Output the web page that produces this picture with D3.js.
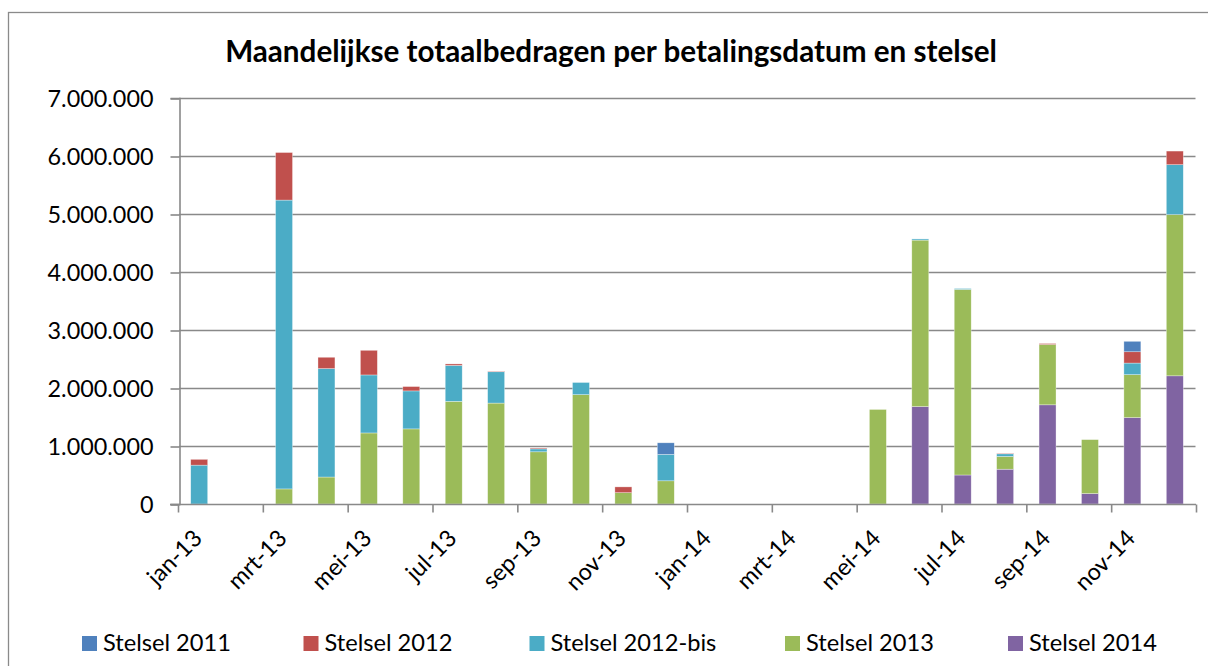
<!DOCTYPE html>
<html>
<head>
<meta charset="utf-8">
<script src="https://cdn.jsdelivr.net/npm/d3@7"></script>
<style>
  html, body { margin: 0; padding: 0; background: #fff; }
  svg { display: block; }
  text { font-family: Lato, "Open Sans", sans-serif; fill: #000; }
</style>
</head>
<body>
<svg id="chart" width="1208" height="666"></svg>
<script>
// Months on the category axis (payment month)
const months = [
  "jan-13","feb-13","mrt-13","apr-13","mei-13","jun-13","jul-13","aug-13","sep-13","okt-13","nov-13","dec-13",
  "jan-14","feb-14","mrt-14","apr-14","mei-14","jun-14","jul-14","aug-14","sep-14","okt-14","nov-14","dec-14"
];

// Monthly totals per scheme (euro)
const stelsel2011 = [
  0, 0, 0, 0, 0, 0, 0, 0, 0, 0, 0, 200000,
  0, 0, 0, 0, 0, 0, 0, 0, 0, 0, 180000, 0
];
const stelsel2012 = [
  100000, 0, 820000, 195000, 425000, 75000, 25000, 10000, 15000, 0, 100000, 0,
  0, 0, 0, 0, 0, 0, 0, 10000, 17000, 0, 195000, 235000
];
const stelsel2012bis = [
  670000, 0, 4980000, 1870000, 1000000, 655000, 620000, 540000, 50000, 210000, 0, 455000,
  0, 0, 0, 0, 0, 20000, 15000, 45000, 0, 0, 200000, 860000
];
const stelsel2013 = [
  0, 0, 260000, 465000, 1225000, 1295000, 1770000, 1740000, 900000, 1885000, 195000, 400000,
  0, 0, 0, 0, 1630000, 2870000, 3200000, 220000, 1040000, 930000, 740000, 2780000
];
const stelsel2014 = [
  0, 0, 0, 0, 0, 0, 0, 0, 0, 0, 0, 0,
  0, 0, 0, 0, 0, 1680000, 500000, 600000, 1710000, 180000, 1490000, 2210000
];

const seriesNames = ["Stelsel 2011", "Stelsel 2012", "Stelsel 2012-bis", "Stelsel 2013", "Stelsel 2014"];
const seriesValues = [stelsel2011, stelsel2012, stelsel2012bis, stelsel2013, stelsel2014];
const seriesColors = ["#4F81BD", "#C0504D", "#4BACC6", "#9BBB59", "#8064A2"];

const yTicks = [0, 1000000, 2000000, 3000000, 4000000, 5000000, 6000000, 7000000];
const xLabelMonths = months.filter((m, i) => i % 2 === 0);
const titleText = "Maandelijkse totaalbedragen per betalingsdatum en stelsel";

// ---- layout ----
const svg = d3.select("#chart");
const plot = { left: 179, right: 1196, top: 98, bottom: 504 };
const gridColor = "#898989";

// Outer chart frame (continues past the right and bottom edges)
svg.append("rect")
  .attr("x", 8.5).attr("y", 12.5)
  .attr("width", 1400).attr("height", 800)
  .attr("fill", "none").attr("stroke", "#8a8a8a").attr("stroke-width", 1.3);

// Scales
const x = d3.scaleBand()
  .domain(months)
  .range([plot.left - 1, plot.right])
  .paddingInner(0.6)
  .paddingOuter(0.3);

const xIndex = d3.scaleLinear().domain([0, months.length]).range([plot.left - 1, plot.right]);

const y = d3.scaleLinear().domain([0, 7000000]).range([plot.bottom, plot.top]);

const nl = d3.formatLocale({ decimal: ",", thousands: ".", grouping: [3], currency: ["€", ""] });
const fmt = nl.format(",");

// Horizontal gridlines
svg.append("g").selectAll("line")
  .data(yTicks.filter(v => v > 0))
  .join("line")
  .attr("x1", plot.left).attr("x2", plot.right - 0.5)
  .attr("y1", d => Math.round(y(d)) + 0.5).attr("y2", d => Math.round(y(d)) + 0.5)
  .attr("stroke", gridColor).attr("stroke-width", 1.6);

// Stacked bars: 2014 at the bottom, 2011 on top
const rows = months.map((m, i) => {
  const r = { month: m };
  seriesNames.forEach((s, k) => { r[s] = seriesValues[k][i]; });
  return r;
});
const stackOrder = seriesNames.slice().reverse();
const stacked = d3.stack().keys(stackOrder)(rows);
const colorOf = d3.scaleOrdinal().domain(seriesNames).range(seriesColors);

svg.append("g").selectAll("g")
  .data(stacked)
  .join("g")
  .attr("fill", d => colorOf(d.key))
  .selectAll("rect")
  .data(d => d.filter(p => p[1] - p[0] > 0))
  .join("rect")
  .attr("x", p => x(p.data.month))
  .attr("width", x.bandwidth())
  .attr("y", p => y(p[1]))
  .attr("height", p => y(p[0]) - y(p[1]))
  .attr("stroke", "#ffffff").attr("stroke-opacity", 0.55).attr("stroke-width", 0.6);

// Y axis
const yAxis = svg.append("g")
  .attr("transform", `translate(${plot.left + 0.5},0)`)
  .call(d3.axisLeft(y).tickValues(yTicks).tickFormat(fmt).tickSize(9).tickPadding(17));
yAxis.select(".domain").attr("stroke", gridColor).attr("stroke-width", 1.6);
yAxis.selectAll(".tick line").attr("stroke", gridColor).attr("stroke-width", 1.6)
  .attr("transform", "translate(0,0.5)");
yAxis.selectAll(".tick text").attr("font-family", "Lato").attr("fill", "#000");

// X axis tick marks every two months at category boundaries
const xTickAxis = svg.append("g")
  .attr("transform", `translate(0,${plot.bottom + 0.5})`)
  .call(d3.axisBottom(xIndex).tickValues(d3.range(0, months.length + 1, 2)).tickFormat("").tickSize(8));
xTickAxis.select(".domain").attr("stroke", gridColor).attr("stroke-width", 1.6)
  .attr("d", `M${plot.left - 9},0H${plot.right}`);
xTickAxis.selectAll(".tick line").attr("stroke", gridColor).attr("stroke-width", 1.6);

// X labels at every other month, rotated
const xLabelAxis = svg.append("g")
  .attr("transform", `translate(0,${plot.bottom})`)
  .call(d3.axisBottom(x).tickValues(xLabelMonths).tickSize(0));
xLabelAxis.select(".domain").remove();
xLabelAxis.selectAll(".tick text")
  .attr("text-anchor", "end")
  .attr("font-family", "Lato").attr("fill", "#000")
  .attr("x", -1.5).attr("y", 30).attr("dy", "0.35em")
  .attr("transform", "rotate(-45, -1.5, 30)");

// Title
const title = svg.append("text")
  .attr("x", 611).attr("y", 62)
  .attr("text-anchor", "middle")
  .attr("font-weight", "bold")
  .attr("font-size", 27)
  .text(titleText);

// Legend
const legendX = [82, 303.5, 529.5, 785, 1008];
const legend = svg.append("g").selectAll("g")
  .data(seriesNames)
  .join("g")
  .attr("transform", (d, i) => `translate(${legendX[i]},636)`);
legend.append("rect").attr("width", 15).attr("height", 15).attr("fill", (d, i) => seriesColors[i]);
const legendText = legend.append("text").attr("x", 21).attr("y", 15).text(d => d);

// Size the text so the string widths follow the chart's proportions
function fitSize(sel, sample, targetWidth, base) {
  sel.attr("font-size", base);
  const w = sample.node().getComputedTextLength();
  const s = base * targetWidth / w;
  sel.attr("font-size", s);
  return s;
}
fitSize(title, title, 772, 27);
const legSize = fitSize(legendText, legendText.filter((d, i) => i === 0), 128, 24);
const yTickText = yAxis.selectAll(".tick text");
const tickSize = fitSize(yTickText, yTickText.filter(d => d === 7000000), 106, 24);
xLabelAxis.selectAll(".tick text").attr("font-size", tickSize);
yAxis.selectAll(".tick text").attr("dy", "0.36em");
</script>
</body>
</html>
